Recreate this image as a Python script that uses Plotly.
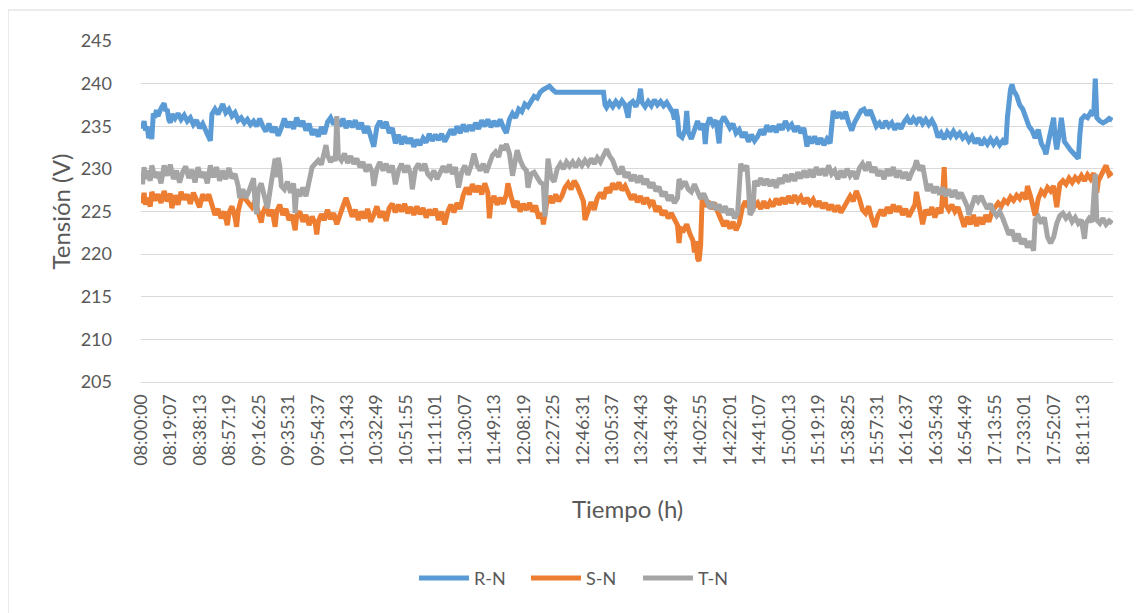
import plotly.graph_objects as go

# Tick labels on the time axis (category labels shown by the original chart)
tick_labels = ["08:00:00", "08:19:07", "08:38:13", "08:57:19", "09:16:25", "09:35:31",
               "09:54:37", "10:13:43", "10:32:49", "10:51:55", "11:11:01", "11:30:07",
               "11:49:13", "12:08:19", "12:27:25", "12:46:31", "13:05:37", "13:24:43",
               "13:43:49", "14:02:55", "14:22:01", "14:41:07", "15:00:13", "15:19:19",
               "15:38:25", "15:57:31", "16:16:37", "16:35:43", "16:54:49", "17:13:55",
               "17:33:01", "17:52:07", "18:11:13"]

# (minutes after 08:00, voltage)
rn_data = [(0,235.4),(1,234.8),(2,235.6),(3,234.5),(4,235.0),(5,233.6),(6,234.4),(7,233.5),(8,236.5),(9,236.0),
 (10,236.9),(11,236.2),(13,237.1),(15,237.7),(16,236.8),(17,237.0),(18,235.8),(19,235.4),(20,236.4),(22,235.9),
 (24,236.5),(26,235.8),(28,236.3),(30,235.6),(32,236.0),(34,235.2),(36,235.7),(38,234.8),(40,235.3),(42,234.5),
 (44,233.7),(45,233.3),(46,236.4),(48,237.0),(50,236.4),(52,237.2),(53,237.6),(55,236.6),(57,237.0),(59,236.2),
 (61,236.6),(63,235.7),(65,236.0),(67,235.4),(69,235.8),(71,235.2),(73,235.6),(75,235.0),(77,235.9),(79,235.0),
 (81,234.4),(83,235.3),(85,234.3),(87,234.9),(89,233.9),(91,234.8),(93,235.9),(95,234.9),(97,235.5),(99,234.7),
 (101,236.0),(103,235.0),(105,235.6),(107,234.5),(109,235.3),(111,234.0),(113,234.6),(115,233.8),(117,234.9),(119,234.1),
 (121,235.5),(123,236.0),(125,235.2),(127,235.8),(129,235.0),(131,235.9),(133,234.8),(135,235.6),(137,234.9),(139,235.7),
 (141,234.7),(143,235.4),(145,234.2),(147,235.0),(149,233.5),(151,232.6),(153,234.9),(155,235.6),(157,234.8),(159,235.5),
 (161,234.2),(163,234.8),(165,233.0),(167,234.0),(169,232.9),(171,233.8),(173,233.0),(175,233.6),(177,232.6),(179,233.4),
 (181,232.8),(183,233.6),(185,233.1),(187,234.1),(189,233.3),(191,234.0),(193,233.4),(195,234.1),(197,233.2),(199,233.9),
 (201,234.6),(203,234.0),(205,235.0),(207,234.2),(209,235.2),(211,234.4),(213,235.1),(215,234.5),(217,235.4),(219,234.7),
 (221,235.7),(223,235.0),(225,235.8),(227,234.9),(229,235.6),(231,235.0),(233,235.8),(235,234.9),(237,234.2),(239,235.8),
 (241,236.5),(243,236.0),(245,237.0),(247,236.7),(249,237.6),(251,237.3),(253,238.0),(255,238.5),(257,238.3),(259,239.0),
 (261,239.3),(263,239.5),(265,239.7),(267,239.3),(269,239.0),(272,239.0),(300,239.0),(301,237.5),(302,237.2),(304,237.8),
 (306,237.3),(308,237.9),(310,237.4),(312,238.0),(314,237.5),(316,236.0),(317,237.6),(319,237.9),(321,237.3),(323,238.2),
 (324,239.4),(325,237.8),(327,237.3),(329,237.9),(331,237.4),(333,238.1),(335,237.5),(337,237.9),(339,237.4),(341,237.8),
 (343,237.2),(345,236.6),(346,235.8),(347,237.0),(348,236.0),(349,234.0),(351,233.7),(353,234.6),(354,236.8),(355,234.3),
 (357,233.5),(359,234.5),(361,235.6),(363,234.6),(365,235.3),(366,232.9),(367,235.0),(369,236.0),(371,235.2),(373,235.7),
 (375,233.0),(376,235.4),(378,236.1),(380,235.5),(382,234.8),(384,235.3),(386,234.2),(388,234.6),(390,233.7),(392,234.3),
 (394,233.2),(396,234.0),(398,233.3),(400,233.8),(402,234.6),(404,234.0),(406,235.1),(408,234.4),(410,235.0),(412,234.3),
 (414,235.2),(416,234.6),(418,235.6),(420,234.8),(422,235.2),(424,234.4),(426,235.0),(428,234.2),(430,234.8),(432,232.6),
 (433,233.8),(435,233.0),(437,233.8),(439,232.9),(441,233.6),(443,232.8),(445,233.5),(447,233.0),(448,235.4),(449,236.8),
 (451,236.0),(453,236.6),(455,235.9),(457,236.7),(459,235.4),(461,234.5),(463,235.5),(465,236.3),(467,236.8),(469,237.0),
 (471,236.3),(473,236.9),(475,236.0),(477,235.0),(479,235.4),(481,234.8),(483,235.6),(485,235.0),(487,235.4),(489,234.6),
 (491,235.3),(493,234.7),(495,235.5),(497,236.0),(499,235.3),(501,235.9),(503,235.4),(505,236.0),(507,235.3),(509,235.8),
 (511,235.2),(513,235.7),(515,235.0),(517,233.7),(519,234.2),(521,233.5),(523,234.3),(525,233.8),(527,234.4),(529,233.8),
 (531,234.2),(533,233.6),(535,234.0),(537,233.3),(539,233.8),(541,233.0),(543,233.6),(545,232.8),(547,233.4),(549,232.9),
 (551,233.5),(553,232.9),(555,233.4),(557,232.8),(559,233.3),(561,232.9),(562,236.0),(563,238.0),(564,239.3),(565,239.9),
 (566,239.2),(568,238.6),(570,237.5),(572,237.0),(574,235.8),(576,235.0),(578,234.5),(580,233.6),(582,234.6),(584,233.0),
 (586,232.3),(587,231.7),(589,233.5),(591,235.0),(592,236.0),(593,233.5),(594,232.3),(596,234.5),(597,236.0),(599,233.2),
 (601,232.6),(603,232.2),(605,231.8),(607,231.4),(608,231.2),(609,234.0),(610,235.8),(612,236.2),(614,236.0),(616,236.6),
 (618,236.3),(619,240.6),(620,236.0),(622,235.6),(624,235.4),(626,235.6),(628,235.9),(630,235.7)]

sn_data = [(0,226.8),(1,226.0),(2,227.2),(3,225.8),(4,226.6),(6,225.6),(7,227.3),(9,226.3),(11,227.0),(13,226.0),
 (15,227.4),(17,226.2),(19,227.1),(20,225.4),(22,226.9),(24,225.8),(26,227.3),(28,226.4),(30,227.0),(32,225.9),
 (34,227.2),(36,226.2),(38,225.5),(40,227.0),(42,226.3),(44,227.0),(46,226.0),(48,224.6),(50,225.3),(52,224.2),
 (54,225.0),(56,223.4),(57,224.8),(59,225.6),(61,224.3),(62,223.2),(63,225.0),(65,226.2),(66,227.2),(68,226.4),
 (70,226.0),(72,225.5),(74,226.2),(76,225.0),(78,223.7),(79,224.8),(81,225.6),(83,224.5),(85,225.2),(87,223.2),
 (88,225.0),(90,225.8),(92,224.6),(94,225.3),(96,224.0),(98,224.6),(100,222.8),(101,224.5),(103,225.0),(105,223.8),
 (107,224.6),(109,223.4),(111,224.4),(113,223.6),(114,222.3),(115,223.8),(117,224.7),(119,224.0),(121,225.2),(123,224.1),
 (125,224.8),(127,223.5),(129,224.8),(131,225.6),(133,226.6),(135,225.4),(137,224.4),(139,225.2),(141,224.0),(143,225.0),
 (145,224.2),(147,225.3),(149,223.8),(151,224.6),(153,225.6),(155,224.3),(157,225.0),(159,223.9),(161,225.4),(163,225.9),
 (165,224.9),(167,225.8),(169,225.0),(171,225.9),(173,224.8),(175,225.5),(177,224.6),(179,225.6),(181,224.7),(183,225.4),
 (185,224.3),(187,225.2),(189,224.6),(191,225.3),(193,224.0),(195,225.0),(197,223.5),(199,225.0),(201,225.8),(203,224.9),
 (205,226.0),(207,225.3),(209,226.9),(211,227.8),(213,227.0),(215,228.2),(217,227.3),(219,228.0),(221,227.0),(223,228.3),
 (225,227.2),(226,224.2),(227,226.0),(229,226.8),(231,225.8),(233,226.6),(235,225.9),(237,227.0),(238,228.3),(240,226.8),
 (242,225.5),(244,226.2),(246,225.0),(248,225.9),(250,225.2),(252,226.0),(254,225.0),(256,225.7),(258,224.2),(260,224.8),
 (261,223.5),(263,225.8),(265,226.8),(267,226.0),(269,227.0),(271,226.2),(273,226.8),(275,227.8),(277,228.3),(279,227.6),
 (281,228.6),(283,228.0),(285,227.2),(287,226.2),(288,224.0),(290,225.0),(292,226.1),(294,225.2),(296,226.6),(298,227.2),
 (300,226.5),(302,227.8),(304,227.2),(306,228.3),(308,227.6),(310,228.4),(312,227.5),(314,228.0),(316,227.2),(318,226.4),
 (320,227.0),(322,226.1),(324,226.8),(326,225.9),(328,226.6),(330,225.8),(332,226.3),(334,225.0),(336,225.6),(338,224.6),
 (340,225.1),(342,224.2),(344,224.8),(346,224.0),(348,223.4),(349,221.3),(350,223.0),(352,222.8),(354,223.5),(356,222.4),
 (358,221.6),(359,220.2),(360,221.5),(361,219.5),(362,219.2),(363,221.0),(364,226.5),(366,225.6),(368,226.2),(370,225.3),
 (372,226.0),(374,225.0),(376,224.2),(378,223.3),(380,223.9),(382,223.0),(384,223.8),(386,222.8),(388,223.6),(390,225.4),
 (392,226.2),(394,225.5),(396,226.4),(398,225.6),(400,226.0),(402,225.3),(404,226.2),(406,225.4),(408,226.1),(410,225.6),
 (412,226.5),(414,225.8),(416,226.6),(418,225.9),(420,226.8),(422,226.0),(424,226.9),(426,226.2),(428,226.7),(430,225.9),
 (432,226.6),(434,225.9),(436,226.4),(438,225.6),(440,226.2),(442,225.4),(444,226.0),(446,225.2),(448,225.8),(450,225.0),
 (452,225.7),(454,224.9),(456,225.5),(458,226.2),(460,226.8),(462,226.2),(464,227.4),(466,226.5),(468,225.2),(470,224.8),
 (472,225.6),(474,224.2),(476,223.2),(478,224.5),(480,225.2),(482,224.5),(484,225.5),(486,224.8),(488,225.8),(490,225.0),
 (492,225.6),(494,224.6),(496,225.3),(498,224.4),(500,225.0),(502,225.8),(503,227.3),(505,225.0),(507,223.5),(509,225.2),
 (511,224.6),(513,225.5),(515,224.3),(517,225.4),(519,224.8),(520,227.0),(521,230.2),(522,225.8),(524,225.2),(526,225.8),
 (528,225.0),(530,225.5),(532,224.3),(534,223.2),(536,224.4),(538,223.5),(540,224.6),(542,223.3),(544,224.3),(546,223.5),
 (548,224.6),(550,223.8),(552,225.0),(554,225.6),(556,226.0),(558,225.6),(560,226.3),(562,226.0),(564,226.7),(566,226.3),
 (568,226.9),(570,226.5),(572,227.2),(574,226.4),(575,228.0),(577,226.8),(579,225.5),(580,224.5),(582,226.5),(584,227.4),
 (586,227.0),(588,227.8),(590,227.4),(592,228.0),(594,225.5),(596,228.2),(598,228.6),(600,228.2),(602,228.9),(604,228.4),
 (606,229.0),(608,228.6),(610,229.2),(612,228.6),(614,229.3),(616,228.8),(618,229.5),(620,227.2),(621,228.6),(623,229.4),
 (625,230.2),(626,230.4),(628,229.3),(630,229.6)]

tn_data = [(0,229.5),(1,228.2),(2,230.2),(3,228.8),(4,229.8),(6,228.6),(7,230.4),(9,229.0),(11,229.6),(13,228.3),
 (15,230.4),(17,229.2),(19,230.5),(21,228.8),(23,229.8),(25,228.4),(27,229.6),(29,230.3),(31,228.9),(33,229.9),
 (35,228.4),(37,230.2),(39,229.0),(41,229.6),(43,228.3),(45,230.4),(47,229.0),(49,230.2),(51,228.6),(53,229.8),
 (55,228.8),(57,230.1),(59,228.9),(61,229.4),(63,228.0),(64,226.6),(66,227.6),(68,226.6),(70,227.4),(72,228.6),
 (73,228.9),(74,226.0),(75,224.7),(76,227.5),(78,228.3),(80,226.8),(82,225.4),(84,227.8),(86,230.0),(87,231.2),
 (88,229.0),(89,231.3),(90,230.3),(91,228.0),(93,227.6),(95,228.5),(97,227.2),(99,228.3),(100,224.8),(101,227.6),
 (103,226.8),(105,227.8),(107,226.8),(109,228.4),(111,230.2),(113,230.6),(115,231.0),(117,230.5),(119,232.3),(120,232.8),
 (121,231.6),(123,230.8),(125,231.4),(126,230.9),(127,236.2),(128,231.5),(130,231.0),(132,231.8),(134,230.7),(136,231.5),
 (138,230.6),(140,231.2),(142,230.2),(144,230.8),(146,229.7),(148,230.5),(150,229.6),(151,228.0),(153,230.0),(155,230.8),
 (157,229.8),(159,230.6),(161,229.6),(163,230.4),(165,228.2),(167,229.8),(169,230.6),(171,229.6),(173,230.4),(175,229.3),
 (176,227.6),(178,230.0),(180,230.6),(182,229.8),(184,230.6),(186,229.4),(188,229.0),(190,229.8),(192,228.8),(194,229.5),
 (196,230.3),(198,229.6),(200,230.5),(202,229.4),(204,230.2),(206,227.8),(208,229.6),(210,230.4),(212,229.3),(214,230.3),
 (216,231.8),(218,230.4),(220,229.8),(222,230.6),(224,229.6),(226,230.6),(228,231.6),(230,232.0),(232,231.4),(234,232.8),
 (235,232.2),(237,232.9),(239,231.8),(241,229.2),(242,230.0),(244,232.2),(246,231.0),(248,230.2),(250,229.8),(251,227.8),
 (253,229.4),(255,229.6),(257,229.0),(259,228.4),(261,228.2),(262,224.4),(263,228.0),(264,231.2),(266,229.0),(268,228.5),
 (270,230.0),(272,230.6),(274,230.0),(276,230.8),(278,230.3),(280,230.8),(282,230.2),(284,230.9),(286,230.4),(288,231.0),
 (290,230.5),(292,231.2),(294,230.6),(296,231.3),(298,230.8),(300,231.5),(302,232.3),(304,231.5),(306,231.0),(308,230.0),
 (310,229.4),(312,230.3),(314,229.0),(316,229.6),(318,228.6),(320,229.3),(322,228.4),(324,229.2),(326,228.2),(328,228.8),
 (330,227.8),(332,228.4),(334,227.4),(336,227.9),(338,226.8),(340,227.3),(342,226.3),(344,226.9),(346,226.0),(348,226.6),
 (349,228.8),(351,228.0),(353,228.5),(355,227.6),(357,227.3),(359,228.2),(361,227.2),(363,226.5),(365,227.1),(367,226.2),
 (369,225.4),(371,226.1),(373,225.2),(375,225.8),(377,224.9),(379,225.6),(381,224.6),(383,225.3),(385,224.2),(387,224.8),
 (388,228.5),(389,230.6),(391,229.8),(393,230.4),(394,228.0),(395,224.6),(397,225.2),(398,228.6),(400,228.0),(402,228.9),
 (404,228.1),(406,228.8),(408,228.0),(410,228.7),(412,227.8),(414,228.9),(416,228.3),(418,229.3),(420,228.5),(422,229.4),
 (424,228.6),(426,229.6),(428,228.9),(430,229.8),(432,229.0),(434,229.9),(436,229.0),(438,230.2),(440,229.3),(442,230.0),
 (444,229.2),(446,230.4),(448,229.4),(450,229.8),(452,228.8),(454,229.8),(456,229.0),(458,230.0),(460,229.2),(462,229.7),
 (464,228.8),(466,230.1),(468,230.6),(470,229.8),(472,230.8),(474,229.6),(476,230.2),(478,229.2),(480,229.8),(482,228.8),
 (484,230.0),(486,229.2),(488,230.2),(490,229.0),(492,229.8),(494,228.9),(496,229.6),(498,228.7),(500,229.6),(502,230.3),
 (503,231.0),(505,229.8),(507,230.4),(509,228.6),(510,227.4),(512,228.2),(514,227.2),(516,227.9),(518,227.0),(520,227.8),
 (522,226.8),(524,227.6),(526,226.7),(528,227.5),(530,226.5),(532,227.2),(534,226.2),(536,225.6),(537,224.6),(539,225.8),
 (541,226.8),(543,226.2),(545,226.8),(547,226.0),(549,225.3),(551,225.9),(553,225.0),(555,224.5),(557,225.0),(559,224.2),
 (561,223.0),(563,222.3),(565,222.8),(567,221.5),(569,222.4),(571,221.2),(573,221.8),(575,220.8),(577,221.5),(579,220.4),
 (580,224.0),(582,224.4),(584,223.6),(586,224.3),(588,222.0),(590,221.3),(592,222.0),(594,223.6),(596,224.5),(598,224.8),
 (600,224.2),(602,224.6),(604,223.8),(606,224.3),(608,223.6),(610,224.0),(612,221.8),(613,223.6),(615,224.2),(617,223.8),
 (619,229.4),(620,224.0),(622,223.6),(624,224.2),(626,223.5),(628,223.9),(630,223.6)]

series = [("R-N", rn_data, "#5B9BD5"), ("S-N", sn_data, "#ED7D31"), ("T-N", tn_data, "#A5A5A5")]


def to_minutes(label):
    h, m, s = (int(p) for p in label.split(":"))
    return (h - 8) * 60 + m + s / 60.0


tick_vals = [to_minutes(l) for l in tick_labels]

FONT = "Lato"
TXT = "#595959"
GRID = "#D9D9D9"

fig = go.Figure()
for name, data, color in series:
    fig.add_trace(go.Scatter(
        x=[p[0] for p in data], y=[p[1] for p in data], name=name, mode="lines",
        line=dict(color=color, width=5, shape="linear")))

# The page body adds an 8 px margin, so the figure is 8 px smaller on each axis.
fig.update_layout(
    width=1133, height=605,
    margin=dict(l=133, r=28, t=33, b=231),
    paper_bgcolor="white", plot_bgcolor="white",
    font=dict(family=FONT, color=TXT, size=18),
    showlegend=True,
    legend=dict(orientation="h", x=0.4537, xanchor="center", y=-0.576, yanchor="middle",
                font=dict(size=18, color=TXT), entrywidth=47, itemwidth=50,
                bgcolor="rgba(0,0,0,0)"),
    xaxis=dict(range=[0, 630.5], tickmode="array", tickvals=tick_vals, ticktext=tick_labels,
               tickangle=-90, showgrid=False, zeroline=False, showline=True, linecolor=GRID,
               linewidth=1, ticks="", tickfont=dict(size=18, color=TXT), ticklabelstandoff=4),
    yaxis=dict(range=[205, 245], dtick=5, tick0=205, showgrid=True, gridcolor=GRID, gridwidth=1,
               zeroline=False, showline=False, ticks="", tickfont=dict(size=18, color=TXT),
               ticklabelstandoff=28),
    annotations=[
        dict(text="Tiempo (h)", xref="paper", yref="paper", x=0.5, y=-0.370,
             xanchor="center", yanchor="middle", showarrow=False, font=dict(size=24, color=TXT)),
        dict(text="Tensión (V)", xref="paper", yref="paper", x=-0.0833, y=0.5, textangle=-90,
             xanchor="center", yanchor="middle", showarrow=False, font=dict(size=24, color=TXT)),
    ],
    shapes=[dict(type="rect", xref="paper", yref="paper", x0=-0.1368, x1=1.0278, y0=-0.68, y1=1.0909,
                 line=dict(color=GRID, width=1), fillcolor="rgba(0,0,0,0)", layer="below")],
)

fig.write_html("out.html")
